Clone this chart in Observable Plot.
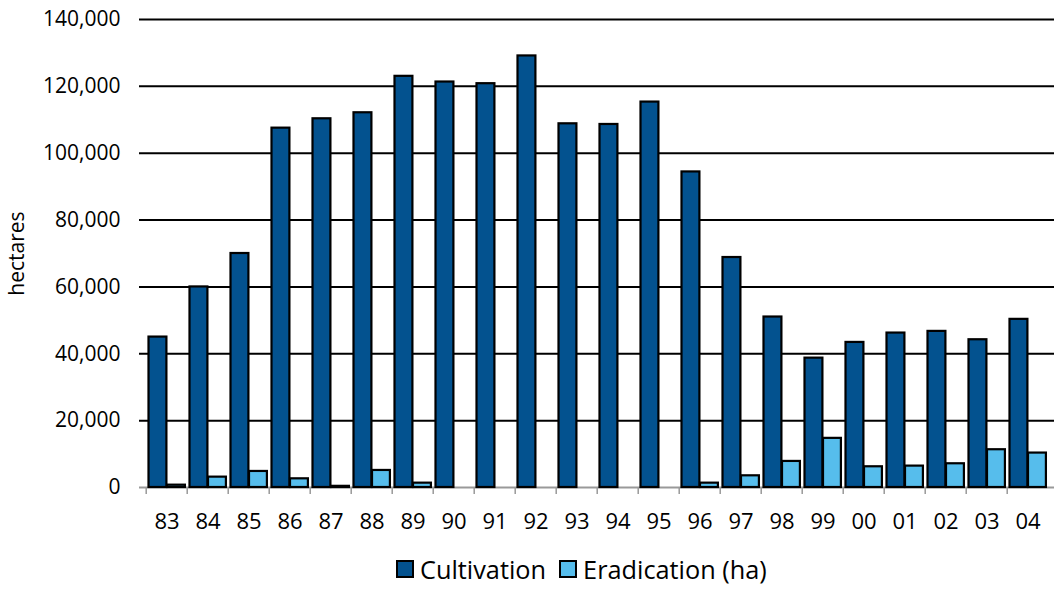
<!DOCTYPE html>
<html><head><meta charset="utf-8">
<script src="https://cdn.jsdelivr.net/npm/d3@7"></script>
<script src="https://cdn.jsdelivr.net/npm/@observablehq/plot@0.6"></script>
<style>
body{margin:0;background:#fff;font-family:"Open Sans",sans-serif;}
#wrap{position:relative;width:1054px;height:589px;overflow:hidden;}
#legend{position:absolute;left:396px;top:555px;display:flex;align-items:center;font-size:25.3px;line-height:28px;color:#000;white-space:nowrap;}
.sw{width:14px;height:14px;border:2px solid #000;margin-right:6px;}
.item{display:flex;align-items:center;margin-right:13px;}
</style></head><body>
<div id="wrap"><div id="chart"></div><div id="legend"></div></div>
<script>
const years = ["83","84","85","86","87","88","89","90","91","92","93","94","95","96","97","98","99","00","01","02","03","04"];
const cultivation = [45000,60000,70000,107500,110300,112100,123000,121300,120800,129100,108800,108600,115300,94400,68800,51000,38700,43400,46200,46700,44200,50300];
const eradication = [700,3100,4800,2600,350,5100,1300,null,null,null,null,null,null,1300,3500,7800,14700,6200,6400,7100,11300,10300];
const seriesNames = ["Cultivation","Eradication (ha)"];
const seriesColors = ["#03528F","#56BDEC"];
const yTicks = [0,20000,40000,60000,80000,100000,120000,140000];

const W = 1054, H = 545, ML = 139, MR = 0, MT = 19, MB = 58;
const bw = (W - ML - MR) / years.length;

const cultData = years.map((y,i)=>({year:y, value:cultivation[i], series:seriesNames[0]}));
const eradData = years.map((y,i)=>({year:y, value:eradication[i], series:seriesNames[1]})).filter(d=>d.value!=null);

const fmt = d3.format(",");
const chart = Plot.plot({
  width: W, height: H,
  marginLeft: ML, marginRight: MR, marginTop: MT, marginBottom: MB,
  style: {fontFamily: '"Open Sans", sans-serif', color: "#000", background: "#fff"},
  x: {domain: years, padding: 0, axis: null},
  y: {domain: [0,140000], axis: null},
  color: {domain: seriesNames, range: seriesColors},
  marks: [
    Plot.gridY(yTicks.filter(d=>d>0), {stroke:"#000", strokeOpacity:1, strokeWidth:2}),
    Plot.ruleY([0], {stroke:"#999", strokeWidth:2}),
    Plot.ruleX(years, {x: d=>d, y1: 0, y2: 0, insetBottom: -7, dx: -bw/2, stroke:"#999", strokeWidth:1.5}),
    Plot.barY(cultData, {x:"year", y:"value", fill:"series", stroke:"#000", strokeWidth:2.2, insetLeft:2.5, insetRight: bw-21}),
    Plot.barY(eradData, {x:"year", y:"value", fill:"series", stroke:"#000", strokeWidth:2.2, insetLeft:21, insetRight: bw-39.5}),
    Plot.axisY(yTicks, {tickSize:0, tickPadding:19, fontSize:21, tickFormat: fmt, label:"hectares", labelAnchor:"center", labelOffset:130, labelArrow:"none", labelFontSize: 21}),
    Plot.axisX({tickSize:0, tickPadding:26, fontSize:22, label:null})
  ]
});
document.getElementById("chart").appendChild(chart);

const legend = document.getElementById("legend");
seriesNames.forEach((name,i)=>{
  const item = document.createElement("div");
  item.className = "item";
  const sw = document.createElement("div");
  sw.className = "sw";
  sw.style.background = seriesColors[i];
  const t = document.createElement("span");
  t.textContent = name;
  item.appendChild(sw); item.appendChild(t);
  legend.appendChild(item);
});
</script>
</body></html>
